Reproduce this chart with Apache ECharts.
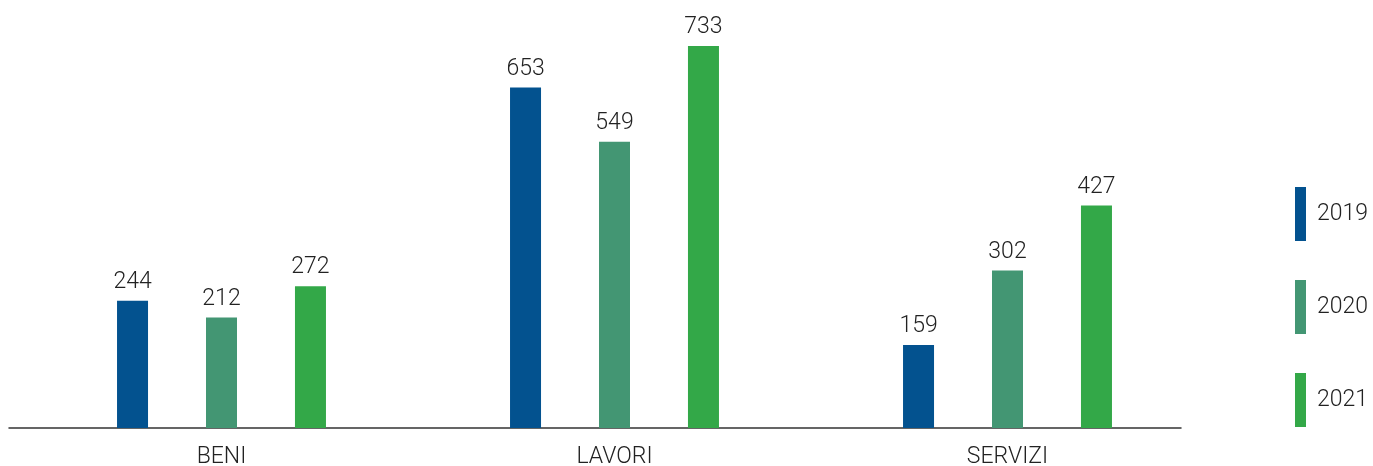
<!DOCTYPE html>
<html><head><meta charset="utf-8">
<script src="https://cdn.jsdelivr.net/npm/echarts@6/dist/echarts.min.js"></script>
<style>html,body{margin:0;padding:0;background:#fff}#c{width:1373px;height:466px}</style>
</head><body><div id="c"></div>
<script>
const categories = ['BENI', 'LAVORI', 'SERVIZI'];
const seriesNames = ['2019', '2020', '2021'];
const values2019 = [244, 653, 159];
const values2020 = [212, 549, 302];
const values2021 = [272, 733, 427];
const colors = ['#03528f', '#439673', '#33a848'];
const data = [values2019, values2020, values2021];

const chart = echarts.init(document.getElementById('c'));
const font = 'Roboto';
const txt = { fontSize: 23, color: '#222', fontFamily: font, fontWeight: 300 };
chart.setOption({
  animation: false,
  textStyle: { fontFamily: font },
  legend: {
    orient: 'vertical', left: 1290, top: 182,
    itemWidth: 11, itemHeight: 54, itemGap: 39,
    icon: 'rect',
    textStyle: Object.assign({}, txt, { padding: [0, 0, 0, 6] }),
    data: seriesNames
  },
  grid: [
    { left: 25, right: 169, top: 11, bottom: 38, outerBoundsMode: 'none', containLabel: false },
    { left: 9, right: 192, top: 11, bottom: 38, outerBoundsMode: 'none', containLabel: false }
  ],
  xAxis: [
    {
      type: 'category', data: categories, gridIndex: 0,
      axisLine: { show: false }, axisTick: { show: false },
      axisLabel: Object.assign({}, txt, { margin: 18 })
    },
    {
      type: 'category', data: categories, gridIndex: 1,
      axisLine: { show: true, lineStyle: { color: '#333', width: 1.5 } },
      axisTick: { show: false }, axisLabel: { show: false }
    }
  ],
  yAxis: [
    { type: 'value', min: 0, max: 800, show: false, gridIndex: 0 },
    { type: 'value', min: 0, max: 800, show: false, gridIndex: 1 }
  ],
  series: seriesNames.map((n, i) => ({
    name: n, type: 'bar', data: data[i], barWidth: 31, barGap: '187%',
    itemStyle: { color: colors[i] },
    label: Object.assign({ show: true, position: 'top', distance: 7 }, txt)
  }))
});
</script></body></html>
